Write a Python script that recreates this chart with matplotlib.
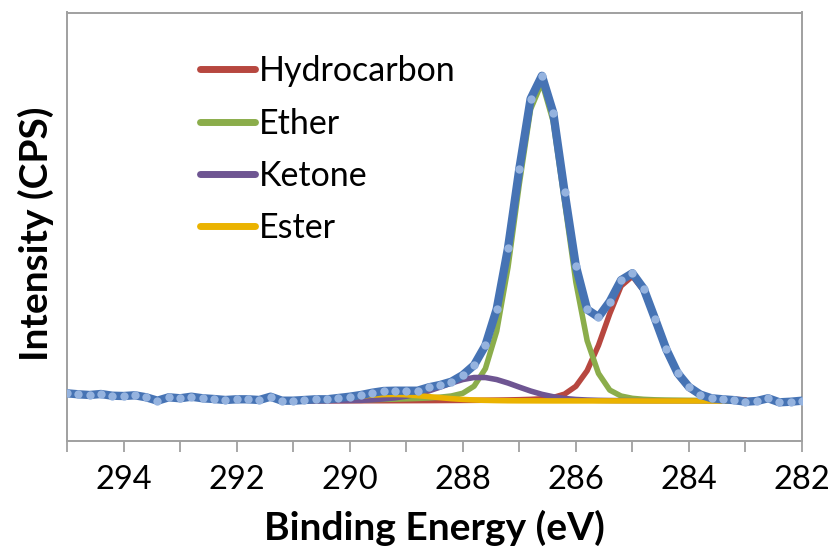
import numpy as np
import matplotlib
matplotlib.use("Agg")
import matplotlib.pyplot as plt
from matplotlib.ticker import MultipleLocator, FuncFormatter

plt.rcParams['font.family'] = ['Lato', 'DejaVu Sans']

# measured C1s spectrum, 0.2 eV steps from 295.0 down to 282.0 eV
energy = np.round(np.arange(295.0, 281.99, -0.2), 1)
counts = [1447, 1417, 1396, 1426, 1374, 1365, 1387, 1326, 1223, 1326,
          1296, 1344, 1296, 1274, 1244, 1265, 1265, 1244, 1344, 1223,
          1223, 1244, 1265, 1265, 1305, 1344, 1396, 1465, 1517, 1526,
          1526, 1526, 1629, 1700, 1800, 2000, 2300, 2900, 4000, 5850,
          8250, 10380, 11080, 9960, 7560, 5310, 3990, 3760, 4230, 4880,
          5090, 4620, 3710, 2780, 2060, 1640, 1410, 1296, 1265, 1240,
          1192, 1214, 1296, 1174, 1192, 1223]

# fitted components, 291.2 down to 283.0 eV
fit_energy = np.round(np.arange(291.2, 282.99, -0.2), 1)
hydrocarbon = [1218, 1218, 1219, 1219, 1220, 1220, 1221, 1221, 1222, 1222,
               1223, 1224, 1225, 1226, 1228, 1230, 1232, 1234, 1237, 1241,
               1246, 1253, 1263, 1280, 1320, 1422, 1659, 2134, 2902, 3863,
               4703, 5000, 4565, 3667, 2727, 2016, 1596, 1393, 1309, 1275,
               1260, 1251]
ether = [1232, 1234, 1236, 1238, 1240, 1243, 1247, 1251, 1256, 1262,
         1270, 1279, 1291, 1306, 1329, 1366, 1448, 1663, 2196, 3332,
         5270, 7795, 10068, 10884, 9693, 7275, 4820, 3044, 2051, 1544,
         1364, 1294, 1264, 1249, 1242, 1238, 1234, 1231, 1229, 1227,
         1226, 1225]
ketone = [1219, 1220, 1221, 1222, 1223, 1225, 1228, 1233, 1250, 1276,
          1309, 1359, 1429, 1520, 1635, 1759, 1864, 1926, 1926, 1864,
          1759, 1635, 1516, 1416, 1342, 1291, 1260, 1243, 1233, 1228,
          1225, 1223, 1222, 1221, 1220, 1219, 1219, 1218, 1218, 1218,
          1217, 1217]
ester = [1223, 1229, 1238, 1252, 1272, 1299, 1330, 1362, 1391, 1409,
         1413, 1402, 1377, 1346, 1314, 1285, 1261, 1244, 1233, 1226,
         1221, 1219, 1218, 1217, 1216, 1216, 1216, 1216, 1216, 1216,
         1216, 1216, 1215, 1215, 1215, 1215, 1215, 1215, 1215, 1215,
         1215, 1215]

fig = plt.figure(figsize=(8.35, 5.52), dpi=100)
ax = fig.add_axes([67/835, 1-441/552, (802-67)/835, (441-12.5)/552])

style = dict(lw=4.0, solid_capstyle='round', solid_joinstyle='round')
ax.plot(fit_energy, hydrocarbon, color='#B7473F', label='Hydrocarbon', **style)
ax.plot(fit_energy, ether, color='#8BAD4B', label='Ether', **style)
ax.plot(fit_energy, ketone, color='#6E5592', label='Ketone', **style)
ax.plot(fit_energy, ester, color='#EBB300', label='Ester', **style)
ax.plot(energy, counts, color='#4673B4', lw=6, marker='o', markersize=6,
        markerfacecolor='#95B3DF', markeredgewidth=0, zorder=5,
        solid_joinstyle='round')

ax.set_xlim(295, 282)
ax.set_ylim(0, 13000)
ax.xaxis.set_major_locator(MultipleLocator(1))
ax.xaxis.set_major_formatter(FuncFormatter(lambda v, p: '%d' % v if int(round(v)) % 2 == 0 else ''))
ax.set_yticks([])
ax.tick_params(axis='x', direction='out', length=8, width=1.3, color='#A0A0A0',
               labelsize=23.5, pad=9)
for s in ax.spines.values():
    s.set_color('#A0A0A0')
    s.set_linewidth(1.4)

ax.set_xlabel('Binding Energy (eV)', fontsize=28, fontweight='bold', labelpad=11)
ax.set_ylabel('Intensity (CPS)', fontsize=28, fontweight='bold')
ax.yaxis.set_label_coords(-0.018, 0.483)

leg = ax.legend(loc='upper left', bbox_to_anchor=(0.1395, 0.972), frameon=False,
                fontsize=24.5, handlelength=1.62, handletextpad=0.12, labelspacing=0.6)
for h in leg.get_lines():
    h.set_linewidth(5)

fig.savefig('out.png', dpi=100)
